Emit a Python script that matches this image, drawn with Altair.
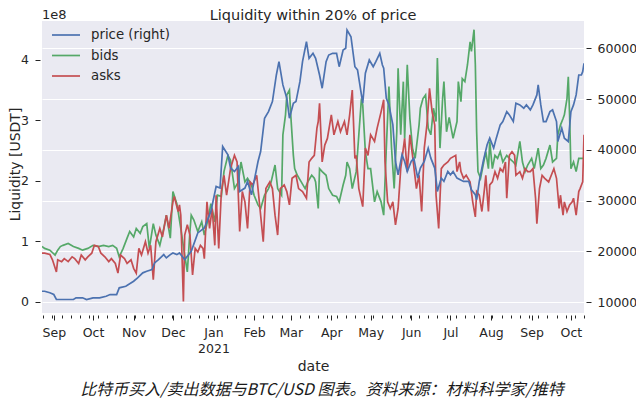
import altair as alt
import pandas as pd

# ---------------- data (days counted from 2020-09-01) ----------------
price_day = [-9, -7, -3, 0, 2, 8, 15, 17, 22, 25,
             30, 35, 40, 43, 48, 50, 55, 61, 64, 68,
             71, 75, 77, 80, 84, 86, 89, 91, 94, 96,
             100, 105, 110, 115, 120, 124, 127, 129, 133, 135,
             138, 141, 142, 146, 148, 151, 153, 156, 158, 161,
             164, 167, 170, 172, 175, 178, 180, 183, 185, 188,
             190, 193, 195, 198, 200, 203, 205, 208, 210, 213,
             216, 218, 221, 223, 224, 227, 230, 232, 235, 236,
             238, 241, 244, 246, 249, 251, 252, 254, 256, 259,
             261, 263, 266, 268, 270, 273, 275, 278, 280, 283,
             286, 288, 291, 293, 296, 298, 301, 303, 305, 308,
             313, 317, 319, 322, 323, 325, 328, 331, 333, 336,
             338, 341, 343, 346, 348, 351, 353, 356, 359, 361,
             364, 366, 369, 370, 372, 374, 376, 379, 381, 384,
             385, 388, 390, 393, 395, 397, 399, 401, 403, 404,
             405]
price_usd = [12160, 12160, 11850, 11510, 10530, 10530, 10530, 10860, 10860, 10530,
             10860, 10860, 11180, 11510, 11510, 12830, 13140, 14130, 14790, 15780,
             16090, 16420, 17740, 18390, 19370, 18720, 19370, 19700, 19370, 19700,
             18390, 20020, 23640, 24620, 27880, 32790, 32470, 40650, 39020, 36410,
             35740, 36720, 31810, 32470, 33780, 31160, 33780, 37710, 39670, 46230,
             47530, 49500, 54740, 57360, 52780, 50160, 46230, 49180, 49500, 53430,
             57360, 61290, 58020, 59010, 58020, 54740, 52130, 57360, 58670, 59010,
             59010, 56370, 59660, 59990, 63590, 62270, 56370, 55730, 50810, 49180,
             55080, 57690, 56370, 57360, 59010, 56710, 56060, 50160, 48850, 44920,
             37710, 35090, 39020, 37710, 35740, 37710, 38370, 34440, 36410, 37710,
             40340, 38370, 36410, 31810, 34440, 33780, 35740, 35090, 35740, 34440,
             33780, 33780, 32140, 31160, 30180, 33780, 37710, 40990, 42300, 40340,
             42300, 44920, 45570, 47530, 46880, 45570, 49180, 48850, 48200, 48850,
             47870, 48850, 50810, 52780, 48850, 45570, 45570, 47530, 47870, 45570,
             41640, 44270, 42300, 41640, 47530, 48850, 50810, 54740, 54740, 55390,
             57040]

bids_day = [-9, -7, -3, 1, 3, 5, 7, 11, 15, 19,
            22, 26, 30, 34, 38, 42, 45, 48, 50, 53,
            56, 58, 61, 63, 66, 68, 71, 73, 76, 78,
            81, 84, 86, 89, 91, 94, 95, 97, 100, 102,
            104, 105, 107, 110, 113, 115, 118, 120, 123, 125,
            128, 130, 133, 135, 138, 141, 143, 146, 148, 151,
            153, 156, 158, 161, 164, 166, 169, 171, 174, 175,
            177, 178, 180, 181, 183, 184, 186, 189, 192, 194,
            197, 199, 200, 202, 203, 205, 208, 210, 213, 216,
            218, 221, 223, 224, 226, 228, 231, 233, 235, 236,
            238, 240, 242, 245, 247, 250, 252, 254, 256, 258,
            260, 262, 263, 265, 267, 268, 270, 272, 274, 276,
            279, 280, 282, 284, 286, 288, 290, 292, 293, 295,
            297, 298, 300, 302, 305, 308, 309, 311, 312, 314,
            316, 318, 319, 321, 322, 323, 324, 326, 328, 330,
            332, 333, 335, 337, 339, 341, 343, 346, 348, 351,
            353, 356, 358, 360, 362, 365, 367, 370, 372, 374,
            376, 379, 381, 384, 385, 387, 389, 390, 392, 393,
            394, 395, 397, 399, 401, 404, 405]
bids_val = [0.91, 0.88, 0.85, 0.77, 0.85, 0.91, 0.93, 0.96, 0.91, 0.88,
            0.85, 0.88, 0.93, 0.91, 0.93, 0.91, 0.93, 0.88, 0.74, 0.88,
            1.05, 1.16, 1.07, 1.21, 1.13, 1.24, 1.29, 0.88, 1.29, 1.10,
            0.93, 1.21, 1.43, 1.05, 1.82, 1.62, 1.49, 1.21, 0.77, 0.49,
            1.16, 1.43, 1.35, 1.16, 1.32, 1.10, 1.38, 1.62, 1.32, 1.76,
            1.74, 2.15, 2.42, 2.34, 1.87, 1.98, 2.31, 1.98, 2.04, 1.93,
            1.76, 1.60, 1.54, 1.76, 1.87, 1.98, 2.26, 1.87, 1.76, 2.76,
            3.09, 3.42, 3.50, 3.09, 2.42, 2.20, 2.09, 1.98, 1.87, 1.98,
            2.09, 2.04, 1.98, 1.54, 2.20, 2.15, 2.09, 1.87, 1.76, 1.74,
            1.65, 1.93, 2.09, 2.31, 2.20, 1.87, 2.15, 2.76, 3.36, 3.25,
            2.48, 2.20, 2.20, 1.65, 1.82, 1.65, 1.43, 2.54, 3.56, 2.54,
            1.87, 2.81, 3.86, 2.76, 3.64, 2.70, 3.92, 3.03, 2.54, 2.37,
            2.92, 3.20, 3.36, 3.42, 2.87, 2.76, 3.20, 2.98, 4.03, 2.54,
            3.36, 3.64, 2.81, 3.05, 2.70, 2.98, 3.64, 3.31, 3.69, 3.64,
            3.92, 4.30, 4.14, 4.50, 3.92, 2.81, 2.15, 2.04, 2.26, 2.48,
            2.20, 2.65, 2.20, 2.42, 2.37, 2.48, 2.31, 2.42, 2.37, 2.31,
            2.26, 2.65, 2.31, 2.15, 2.26, 2.37, 2.20, 2.54, 2.20, 2.26,
            2.37, 2.59, 2.31, 2.37, 2.76, 2.92, 3.03, 3.09, 3.36, 3.72,
            3.09, 2.20, 2.31, 2.15, 2.37, 2.37, 2.37]

asks_day = [-9, -7, -3, -1, 2, 3, 6, 8, 11, 14,
            16, 19, 21, 24, 26, 29, 31, 34, 36, 39,
            42, 44, 47, 49, 51, 54, 56, 59, 61, 63,
            65, 67, 70, 72, 74, 76, 78, 81, 83, 86,
            88, 91, 92, 95, 96, 97, 99, 100, 102, 104,
            106, 108, 110, 112, 114, 115, 117, 119, 121, 123,
            124, 126, 128, 130, 132, 135, 138, 140, 142, 144,
            146, 148, 150, 152, 155, 157, 160, 162, 165, 167,
            169, 171, 173, 176, 178, 180, 182, 185, 187, 190,
            193, 195, 197, 199, 201, 202, 203, 205, 207, 209,
            212, 214, 217, 219, 222, 224, 226, 228, 230, 231,
            233, 236, 238, 240, 242, 245, 247, 250, 252, 253,
            255, 257, 259, 261, 263, 265, 268, 270, 272, 274,
            277, 279, 281, 283, 285, 287, 289, 291, 292, 294,
            296, 298, 301, 303, 307, 308, 310, 311, 313, 315,
            318, 320, 322, 323, 325, 327, 329, 330, 332, 333,
            335, 337, 339, 341, 343, 345, 346, 348, 350, 352,
            353, 356, 358, 360, 362, 364, 366, 368, 369, 371,
            373, 375, 378, 380, 382, 384, 386, 387, 389, 390,
            392, 394, 396, 397, 399, 401, 402, 404, 405]
asks_val = [0.80, 0.80, 0.78, 0.69, 0.49, 0.69, 0.66, 0.71, 0.66, 0.74,
            0.71, 0.63, 0.77, 0.69, 0.74, 0.80, 0.93, 0.91, 0.80, 0.74,
            0.66, 0.71, 0.63, 0.47, 0.77, 0.71, 0.63, 0.69, 0.55, 0.47,
            0.88, 0.77, 0.99, 0.80, 0.93, 0.36, 0.99, 1.21, 1.07, 1.43,
            1.21, 1.65, 1.74, 1.49, 1.60, 1.43, 0.00, 1.10, 1.27, 1.10,
            0.44, 0.88, 0.82, 0.93, 0.88, 0.71, 1.65, 1.21, 1.54, 0.93,
            1.76, 0.88, 1.82, 2.09, 1.76, 2.20, 2.42, 2.31, 1.16, 1.82,
            1.65, 1.21, 1.98, 1.93, 2.09, 1.65, 0.99, 1.87, 1.98, 1.87,
            1.43, 1.10, 1.87, 1.93, 1.82, 1.60, 2.04, 2.09, 1.87, 1.82,
            1.71, 2.31, 2.37, 2.42, 2.87, 2.98, 3.28, 2.31, 2.59, 2.70,
            3.09, 2.76, 2.98, 2.81, 2.98, 2.76, 3.09, 3.50, 2.37, 2.42,
            1.87, 1.57, 2.54, 2.42, 2.76, 2.65, 2.87, 3.14, 3.34, 2.31,
            1.65, 1.54, 1.65, 1.27, 1.54, 2.20, 2.70, 2.15, 2.76, 2.42,
            1.87, 2.09, 1.49, 2.54, 2.92, 3.53, 3.14, 2.92, 1.76, 1.21,
            2.20, 2.26, 2.31, 2.37, 2.42, 2.15, 2.31, 2.15, 2.04, 2.09,
            1.98, 1.65, 1.40, 1.82, 1.76, 1.49, 1.87, 2.09, 1.49, 1.93,
            1.98, 2.15, 2.04, 2.20, 2.15, 2.31, 1.71, 2.42, 2.48, 2.42,
            2.09, 2.15, 2.04, 2.20, 2.15, 2.15, 2.20, 1.71, 1.29, 1.87,
            2.09, 2.04, 1.98, 2.09, 2.20, 2.04, 1.54, 1.76, 1.43, 1.65,
            1.49, 1.60, 1.65, 1.71, 1.43, 1.82, 1.87, 1.98, 2.76]

series_names = ["price (right)", "bids", "asks"]
series_colors = ["#4C72B0", "#55A868", "#C44E52"]
left_ticks = [0, 1, 2, 3, 4]
right_ticks = [10000, 20000, 30000, 40000, 50000, 60000]
title_text = "Liquidity within 20% of price"
offset_text = "1e8"
caption_text = "比特币买入/卖出数据与BTC/USD 图表。资料来源：材料科学家/推特"

# ---------------- build ----------------
BASE_DAY = pd.Timestamp("2020-09-01")


def day_dates(days):
    return [(BASE_DAY + pd.Timedelta(days=int(d))).strftime("%Y-%m-%d") for d in days]


def frame(days, values, name):
    return pd.DataFrame({"date": day_dates(days), "value": values, "series": name})


def ms(ts):
    return int(pd.Timestamp(ts).value // 10**6)


price_df = frame(price_day, price_usd, series_names[0])
bids_df = frame(bids_day, bids_val, series_names[1])
asks_df = frame(asks_day, asks_val, series_names[2])

month_ticks = pd.date_range("2020-09-01", "2021-10-01", freq="MS")
week_ticks = pd.date_range("2020-08-24", "2021-10-11", freq="W-MON")
tick_values = sorted({ms(t) for t in month_ticks} | {ms(t) for t in week_ticks})

TXT = "#262626"
FONT = "DejaVu Sans"

x_enc = alt.X(
    "date:T",
    title="date",
    scale=alt.Scale(type="utc", domain=[ms("2020-08-23"), ms("2021-10-11")], nice=False),
    axis=alt.Axis(
        values=tick_values,
        labelExpr="utcdate(datum.value) == 1 ? (utcmonth(datum.value) == 0 ? "
                  "[utcFormat(datum.value, '%b'), utcFormat(datum.value, '%Y')] : "
                  "utcFormat(datum.value, '%b')) : ''",
        labelOverlap=False,
        labelFlush=False,
        labelFont=FONT, labelFontSize=12.5, labelColor=TXT,
        labelLineHeight=16, labelPadding=6,
        tickSize={"condition": {"test": "utcdate(datum.value) == 1", "value": 5}, "value": 3},
        tickColor=TXT, tickWidth=1, offset=2,
        domain=False, grid=False,
        titleFont=FONT, titleFontSize=14, titleColor=TXT, titleFontWeight="normal",
        titleBaseline="alphabetic", titleX=271, titleY=55,
    ),
)

y_left = alt.Y(
    "value:Q",
    scale=alt.Scale(domain=[-0.190, 4.644], nice=False, zero=False),
    axis=alt.Axis(
        values=left_ticks, title="Liquidity [USDT]", grid=False, domain=False,
        tickSize=5, offset=2, labelPadding=6.5, tickColor=TXT,
        labelFont=FONT, labelFontSize=12.5, labelColor=TXT,
        titleFont=FONT, titleFontSize=14, titleColor=TXT, titleFontWeight="normal",
        titleBaseline="alphabetic", titleAlign="center", titleX=-20.5, titleY=143,
    ),
)

y_right = alt.Y(
    "value:Q",
    scale=alt.Scale(domain=[7873, 65368], nice=False, zero=False),
    axis=alt.Axis(
        orient="right", values=right_ticks, title=None, format="d",
        grid=True, gridColor="white", gridWidth=1.2, domain=False,
        tickSize=5, offset=2, labelPadding=6, tickColor=TXT,
        labelFont=FONT, labelFontSize=12.5, labelColor=TXT,
    ),
)

color_enc = alt.Color(
    "series:N",
    scale=alt.Scale(domain=series_names, range=series_colors),
    legend=alt.Legend(
        title=None, orient="none", legendX=16, legendY=6, padding=0,
        symbolType="M-2,0H2", symbolSize=196, symbolStrokeWidth=1.7,
        labelFont=FONT, labelFontSize=13.3, labelColor=TXT,
        labelOffset=17, rowPadding=5.5,
    ),
)

line_kw = dict(strokeWidth=1.7, clip=True)
bids_line = alt.Chart(bids_df).mark_line(**line_kw).encode(x=x_enc, y=y_left, color=color_enc)
asks_line = alt.Chart(asks_df).mark_line(**line_kw).encode(x=x_enc, y=y_left, color=color_enc)
price_line = alt.Chart(price_df).mark_line(**line_kw).encode(x=x_enc, y=y_right, color=color_enc)

left_pair = alt.layer(bids_line, asks_line)

title_mark = alt.Chart(pd.DataFrame({"t": [title_text]})).mark_text(
    align="center", baseline="alphabetic", font=FONT, fontSize=14.5, color=TXT
).encode(text="t:N", x=alt.value(271), y=alt.value(-1.3))

offset_mark = alt.Chart(pd.DataFrame({"t": [offset_text]})).mark_text(
    align="left", baseline="alphabetic", font=FONT, fontSize=13, color=TXT
).encode(text="t:N", x=alt.value(0), y=alt.value(-2.3))

caption = alt.Chart(pd.DataFrame({"t": [caption_text]})).mark_text(
    align="center", baseline="alphabetic", font="Noto Sans CJK SC", fontSize=16,
    fontStyle="italic", color="#1a1a1a"
).encode(text="t:N", x=alt.value(280), y=alt.value(373.5))

chart = (
    alt.layer(left_pair, price_line, title_mark, offset_mark, caption)
    .resolve_scale(y="independent")
    .properties(
        width=542, height=292,
        padding={"left": 34, "top": 13, "right": 52, "bottom": 85},
        autosize=alt.AutoSizeParams(type="none"),
    )
    .configure_view(fill="#EAEAF2", strokeWidth=0)
)

chart.save("out.html", embed_options={"renderer": "svg", "actions": False})
